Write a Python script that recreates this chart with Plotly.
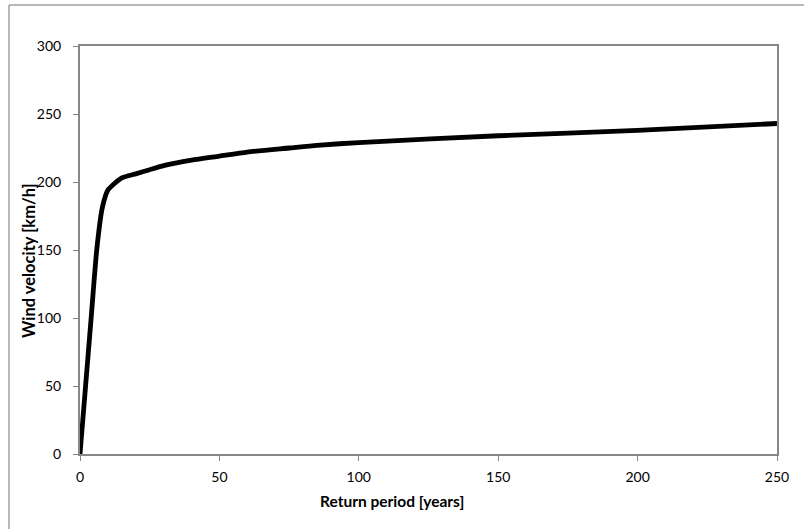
import plotly.graph_objects as go

return_period = [0, 2, 4, 6, 8, 10, 15, 20, 25, 30, 40, 50, 60, 75, 85, 100, 150, 200, 250]
wind_velocity = [0, 50, 100, 150, 181, 194, 203, 206, 209, 212, 216, 219, 222, 225, 227, 229, 234, 238, 243]

x_ticks = [0, 50, 100, 150, 200, 250]
y_ticks = [0, 50, 100, 150, 200, 250, 300]

x_title = "Return period [years]"
y_title = "Wind velocity [km/h]"

W, H = 804, 529
L, R, T, B = 80, 27, 46, 75
pw, ph = W - L - R, H - T - B

FONT = "Lato, Open Sans, sans-serif"

fig = go.Figure()
fig.add_trace(go.Scatter(
    x=return_period, y=wind_velocity, mode="lines",
    line=dict(color="black", width=4.8, shape="spline", smoothing=0.6),
    showlegend=False, hoverinfo="skip"))

axis_common = dict(
    showgrid=False, zeroline=False, showline=True, linecolor="#868686", linewidth=2,
    mirror=True, ticks="outside", ticklen=5, tickcolor="#868686", tickwidth=1,
    automargin=False,
    tickfont=dict(family=FONT, size=14, color="black"),
)

fig.update_layout(
    width=W, height=H,
    margin=dict(l=L, r=R, t=T, b=B, autoexpand=False),
    paper_bgcolor="white", plot_bgcolor="white",
    xaxis=dict(range=[0, 250], tickvals=x_ticks, ticklabelstandoff=4, **axis_common),
    yaxis=dict(range=[0, 300], tickvals=y_ticks, ticklabelstandoff=9, **axis_common),
)

# axis titles placed as in the reference
fig.add_annotation(text="<b>" + x_title + "</b>", xref="paper", yref="paper",
                   x=(392 - L) / pw, y=(H - B - 501) / ph, showarrow=False,
                   xanchor="center", yanchor="middle",
                   font=dict(family=FONT, size=15.5, color="black"))
fig.add_annotation(text="<b>" + y_title + "</b>", xref="paper", yref="paper",
                   x=(29 - L) / pw, y=(H - B - 261) / ph, showarrow=False, textangle=-90,
                   xanchor="center", yanchor="middle",
                   font=dict(family=FONT, size=16.5, color="black"))

# outer chart-area frame (top and left edges visible)
fx0 = (9 - L) / pw
fy_top = (H - B - 5) / ph
fig.add_shape(type="line", xref="paper", yref="paper", x0=fx0, x1=(W + 5 - L) / pw,
              y0=fy_top, y1=fy_top, line=dict(color="#a0a0a0", width=1.5))
fig.add_shape(type="line", xref="paper", yref="paper", x0=fx0, x1=fx0,
              y0=fy_top, y1=(H - B - H - 5) / ph, line=dict(color="#a0a0a0", width=1.5))

fig.write_html("out.html", config={"displayModeBar": False},
               post_script="document.body.style.margin='0';document.body.style.overflow='hidden';")
